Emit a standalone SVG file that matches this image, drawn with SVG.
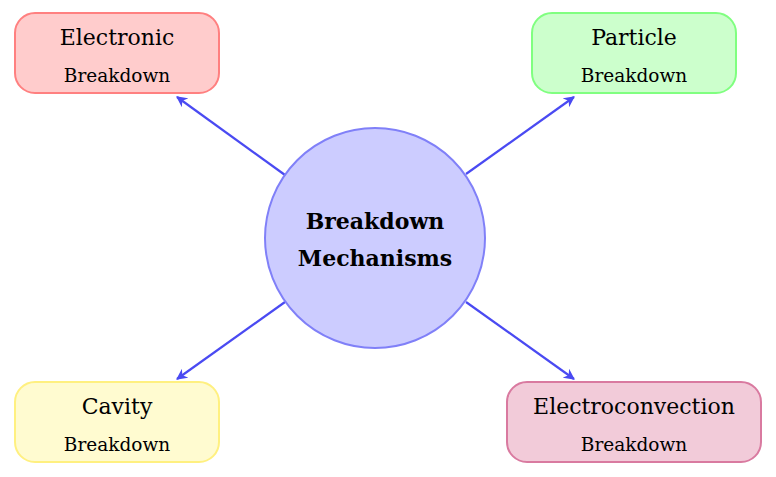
<svg xmlns="http://www.w3.org/2000/svg" width="776" height="477" viewBox="0 0 776 477">
<defs>
<style>
text{font-family:"DejaVu Serif","Liberation Serif",serif;text-anchor:middle;fill:#000}
.t1{font-size:22px}.t2{font-size:18.5px}.c{font-size:22px;font-weight:bold}
.box{stroke-width:2}
.con line{stroke:#4a4af2;stroke-width:2.2;marker-end:url(#ah)}
</style>
<marker id="ah" viewBox="0 0 10 10" refX="9" refY="5" markerWidth="5" markerHeight="5" orient="auto"><path d="M0,0 L10,5 L0,10 L3,5 Z" fill="#4a4af2"/></marker>
</defs>
<rect width="776" height="477" fill="#fff"/>
<g class="con">
<line x1="285" y1="175" x2="177" y2="97"/>
<line x1="466" y1="174" x2="574" y2="97"/>
<line x1="285" y1="302" x2="177" y2="379"/>
<line x1="466" y1="302" x2="574" y2="379"/>
</g>
<g id="center"><circle cx="375" cy="238" r="110" fill="#ccccff" stroke="#8080f8" stroke-width="2"/>
<text class="c" x="375" y="229">Breakdown</text><text class="c" x="375" y="266">Mechanisms</text></g>
<g id="electronic"><rect class="box" x="15" y="13" width="204" height="80" rx="20" fill="#ffcccc" stroke="#ff8080"/>
<text class="t1" x="117" y="45">Electronic</text><text class="t2" x="117" y="82">Breakdown</text></g>
<g id="particle"><rect class="box" x="532" y="13" width="204" height="80" rx="20" fill="#ccffcc" stroke="#80ff80"/>
<text class="t1" x="634" y="45">Particle</text><text class="t2" x="634" y="82">Breakdown</text></g>
<g id="cavity"><rect class="box" x="15" y="382" width="204" height="80" rx="20" fill="#fffbd0" stroke="#fff080"/>
<text class="t1" x="117" y="414">Cavity</text><text class="t2" x="117" y="451">Breakdown</text></g>
<g id="electroconvection"><rect class="box" x="507" y="382" width="254" height="80" rx="20" fill="#f2cbd9" stroke="#d97aa0"/>
<text class="t1" x="634" y="414">Electroconvection</text><text class="t2" x="634" y="451">Breakdown</text></g>
</svg>
